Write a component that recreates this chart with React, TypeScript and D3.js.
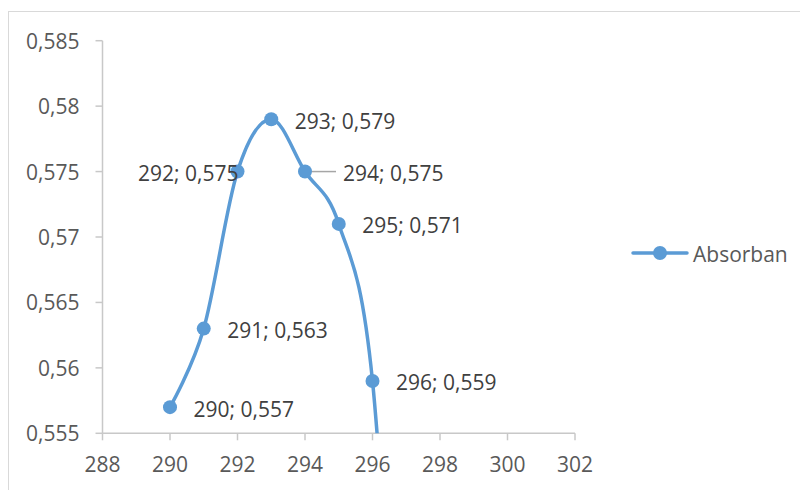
import React from "react";
import * as d3 from "d3";

const wavelengths = [290, 291, 292, 293, 294, 295, 296, 297];
const absorbance = [0.557, 0.563, 0.575, 0.579, 0.575, 0.571, 0.559, 0.52];
const xTicks = [288, 290, 292, 294, 296, 298, 300, 302];
const yTicks = [0.555, 0.56, 0.565, 0.57, 0.575, 0.58, 0.585];
const seriesName = "Absorban";
// label placement per point: r = right, l = left, rl = right with leader line
const labelPos = ["r", "r", "l", "r", "rl", "r", "r", "r"];

const W = 800;
const H = 490;
const FONT = "'Open Sans', 'Noto Sans', sans-serif";
const BLUE = "#5B9BD5";
const FS = 21;

const fmt = (v: number) => String(v).replace(".", ",");

export default function App() {
  const x = d3.scaleLinear().domain([288, 302]).range([102.5, 575]);
  const y = d3.scaleLinear().domain([0.555, 0.585]).range([433.3, 40.7]);
  const pts = wavelengths.map((w, i) => ({ w, v: absorbance[i], pos: labelPos[i] }));
  const line = d3
    .line<{ w: number; v: number }>()
    .x((d) => x(d.w))
    .y((d) => y(d.v))
    .curve(d3.curveCardinal.tension(0));
  const [x0, x1] = x.range();
  const [yb, yt] = y.range();
  const visible = pts.filter((p) => p.w >= 288 && p.w <= 302 && p.v >= 0.555 && p.v <= 0.585);

  return (
    <svg
      width={W}
      height={H}
      style={{ position: "absolute", left: 0, top: 0, background: "#fff" }}
      fontFamily={FONT}
    >
      <defs>
        <clipPath id="plot">
          <rect x={x0} y={yt - 10} width={x1 - x0} height={yb - yt + 10} />
        </clipPath>
      </defs>
      <rect x={8.5} y={11.5} width={W + 20} height={H + 20} fill="none" stroke="#D9D9D9" strokeWidth={1} />

      {/* y axis */}
      <line x1={x0} x2={x0} y1={yt} y2={yb} stroke="#C8C8C8" strokeWidth={1.5} />
      {yTicks.map((t) => (
        <g key={"y" + t}>
          <line x1={x0 - 7} x2={x0} y1={y(t)} y2={y(t)} stroke="#C8C8C8" strokeWidth={1.5} />
          <text x={x0 - 23} y={y(t)} textAnchor="end" dominantBaseline="central" fontSize={FS} fill="#595959">
            {fmt(t)}
          </text>
        </g>
      ))}

      {/* x axis */}
      <line x1={x0} x2={x1} y1={yb} y2={yb} stroke="#C8C8C8" strokeWidth={1.5} />
      {xTicks.map((t) => (
        <g key={"x" + t}>
          <line x1={x(t)} x2={x(t)} y1={yb} y2={yb + 7} stroke="#C8C8C8" strokeWidth={1.5} />
          <text x={x(t)} y={464} textAnchor="middle" dominantBaseline="central" fontSize={FS} fill="#595959">
            {t}
          </text>
        </g>
      ))}

      {/* series */}
      <g clipPath="url(#plot)">
        <path d={line(pts) || ""} fill="none" stroke={BLUE} strokeWidth={3.5} strokeLinejoin="round" strokeLinecap="round" />
      </g>

      {/* leader lines */}
      {visible
        .filter((p) => p.pos === "rl")
        .map((p) => (
          <line key={"ll" + p.w} x1={x(p.w)} x2={x(p.w) + 31} y1={y(p.v)} y2={y(p.v)} stroke="#A6A6A6" strokeWidth={1.5} />
        ))}

      {visible.map((p) => (
        <circle key={"m" + p.w} cx={x(p.w)} cy={y(p.v)} r={7} fill={BLUE} />
      ))}

      {/* data labels */}
      {visible.map((p) => {
        const px = x(p.w);
        const py = y(p.v);
        const lx = p.pos === "l" ? px + 1 : p.pos === "rl" ? px + 38 : px + 23.5;
        return (
          <text
            key={"l" + p.w}
            x={lx}
            y={py + 1.5}
            textAnchor={p.pos === "l" ? "end" : "start"}
            dominantBaseline="central"
            fontSize={FS}
            fill="#404040"
          >
            {`${p.w}; ${fmt(p.v)}`}
          </text>
        );
      })}

      {/* legend */}
      <line x1={633} x2={687} y1={253} y2={253} stroke={BLUE} strokeWidth={3.5} strokeLinecap="round" />
      <circle cx={660} cy={253} r={7} fill={BLUE} />
      <text x={693} y={254} dominantBaseline="central" fontSize={FS} fill="#595959">
        {seriesName}
      </text>
    </svg>
  );
}
